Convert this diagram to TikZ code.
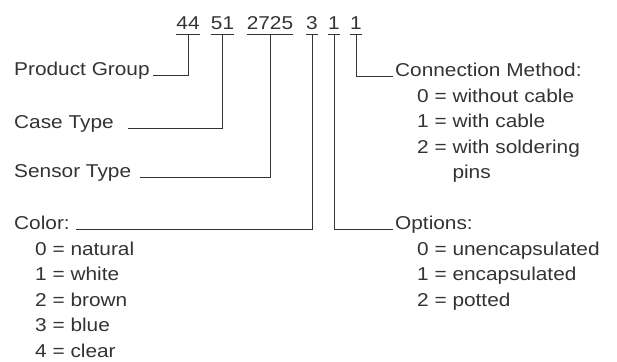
\documentclass[tikz,border=0pt]{standalone}
\usepackage{fontspec}
\setmainfont{Liberation Sans}[FakeStretch=1.12]
\definecolor{ink}{HTML}{333333}

\begin{document}
\begin{tikzpicture}[x=1pt, y=-1pt, font=\fontsize{18.6}{20}\selectfont,
    grp/.style={anchor=base, inner xsep=0pt, inner ysep=4pt, text=ink},
    lbl/.style={anchor=base west, inner sep=0pt, text=ink},
    item/.style={anchor=base west, inner sep=0pt, text=ink},
    lead/.style={draw=ink, line width=0.9pt}]
  \useasboundingbox (0,0) rectangle (617,361);
  % Bestellnummer
  \node[grp] (g44) at (188,30) {44};
  \node[grp] (g51) at (222.5,30) {51};
  \node[grp] (g2725) at (270,30) {2725};
  \node[grp] (g3) at (312,30) {3};
  \node[grp] (g1a) at (334,30) {1};
  \node[grp] (g1b) at (356,30) {1};
  \foreach \g in {g44,g51,g2725,g3,g1a,g1b}
    \draw[lead] (\g.south west) -- (\g.south east);
  % links
  \node[lbl] (pg) at (14,75) {Product Group};
  \node[lbl] (ct) at (14,128) {Case Type};
  \node[lbl] (st) at (14,177) {Sensor Type};
  \node[lbl] (col) at (14,229) {Color:};
  \foreach \t [count=\i from 0] in {0 = natural, 1 = white, 2 = brown, 3 = blue, 4 = clear}
    \node[item] (col\i) at (35,{255+25.5*\i}) {\t};
  % rechts
  \node[lbl] (cm) at (395,76) {Connection Method:};
  \foreach \t [count=\i from 0] in {0 = without cable, 1 = with cable, 2 = with soldering, \phantom{2 = }pins}
    \node[item] (cm\i) at (417,{102+25.5*\i}) {\t};
  \node[lbl] (opt) at (395,229) {Options:};
  \foreach \t [count=\i from 0] in {0 = unencapsulated, 1 = encapsulated, 2 = potted}
    \node[item] (opt\i) at (417,{255+25.5*\i}) {\t};
  % Verbindungen
  \draw[lead] (g44.south) |- ([xshift=3pt]pg.base east);
  \draw[lead] (g51.south) |- ([xshift=14pt]ct.base east);
  \draw[lead] (g2725.south) |- ([xshift=9pt]st.base east);
  \draw[lead] (g3.south) |- ([xshift=6pt]col.base east);
  \draw[lead] (g1a.south) |- ([xshift=-2pt]opt.base west);
  \draw[lead] (g1b.south) |- ([xshift=-2pt]cm.base west);
\end{tikzpicture}
\end{document}
